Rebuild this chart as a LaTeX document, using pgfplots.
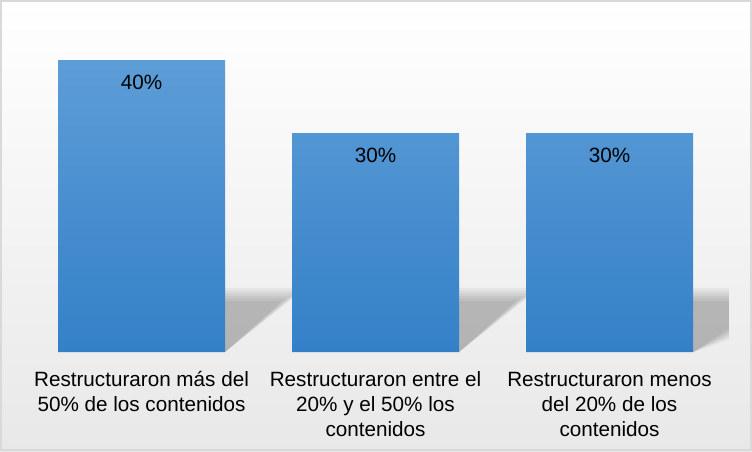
\documentclass[border=0pt]{standalone}
\usepackage{pgfplots}
\pgfplotsset{compat=1.18}
\usepackage{fontspec}
\setmainfont{Liberation Sans}
\definecolor{bartop}{RGB}{93,157,215}
\definecolor{barbot}{RGB}{52,128,200}
\definecolor{frame}{RGB}{217,217,217}
\begin{document}
\begin{tikzpicture}
\fill[top color=white, bottom color=black!9] (0,0) rectangle (564pt,338.25pt);
\draw[frame, line width=1.5pt] (0.75pt,0.75pt) rectangle (563.25pt,337.5pt);
\begin{axis}[
  at={(18.375pt,74.25pt)}, anchor=south west,
  scale only axis, width=526.5pt, height=246.375pt,
  xmin=-0.5, xmax=2.5, ymin=0, ymax=45,
  axis line style={draw=none}, tick style={draw=none},
  /pgf/number format/assume math mode=true,
  ytick=\empty, xtick={0,1,2},
  xticklabels={{\strut Restructuraron más del\\50\% de los contenidos},
               {\strut Restructuraron entre el\\20\% y el 50\% los\\contenidos},
               {\strut Restructuraron menos\\del 20\% de los\\contenidos}},
  xticklabel style={align=center, anchor=north, font=\fontsize{15.5}{18.6}\selectfont, text=black, yshift=-5.3pt},
  ybar, bar width=125.25pt, bar shift=0pt,
  nodes near coords={\pgfmathprintnumber{\pgfplotspointmeta}\%},
  every node near coord/.append style={anchor=center, yshift=-16.5pt, font=\fontsize{15.5}{18}\selectfont, text=black},
  clip=false,
]
\pgfplotsinvokeforeach{0,...,5}{
  \fill[black, fill opacity=0.045] (axis cs:0.357,0) -- (axis cs:0.357,{7.0+0.35*#1}) -- (axis cs:{0.6+0.02*#1},{7.0+0.35*#1}) -- cycle;
  \fill[black, fill opacity=0.045] (axis cs:1.357,0) -- (axis cs:1.357,{7.0+0.35*#1}) -- (axis cs:{1.6+0.02*#1},{7.0+0.35*#1}) -- cycle;
  \fill[black, fill opacity=0.045] (axis cs:2.357,0) -- (axis cs:2.357,{7.0+0.35*#1}) -- (axis cs:2.51,{7.0+0.35*#1}) -- (axis cs:2.51,{3.2-0.3*#1}) -- cycle;
}
\addplot[draw=none, top color=bartop, bottom color=barbot] coordinates {(0,40) (1,30) (2,30)};
\end{axis}
\end{tikzpicture}
\end{document}
